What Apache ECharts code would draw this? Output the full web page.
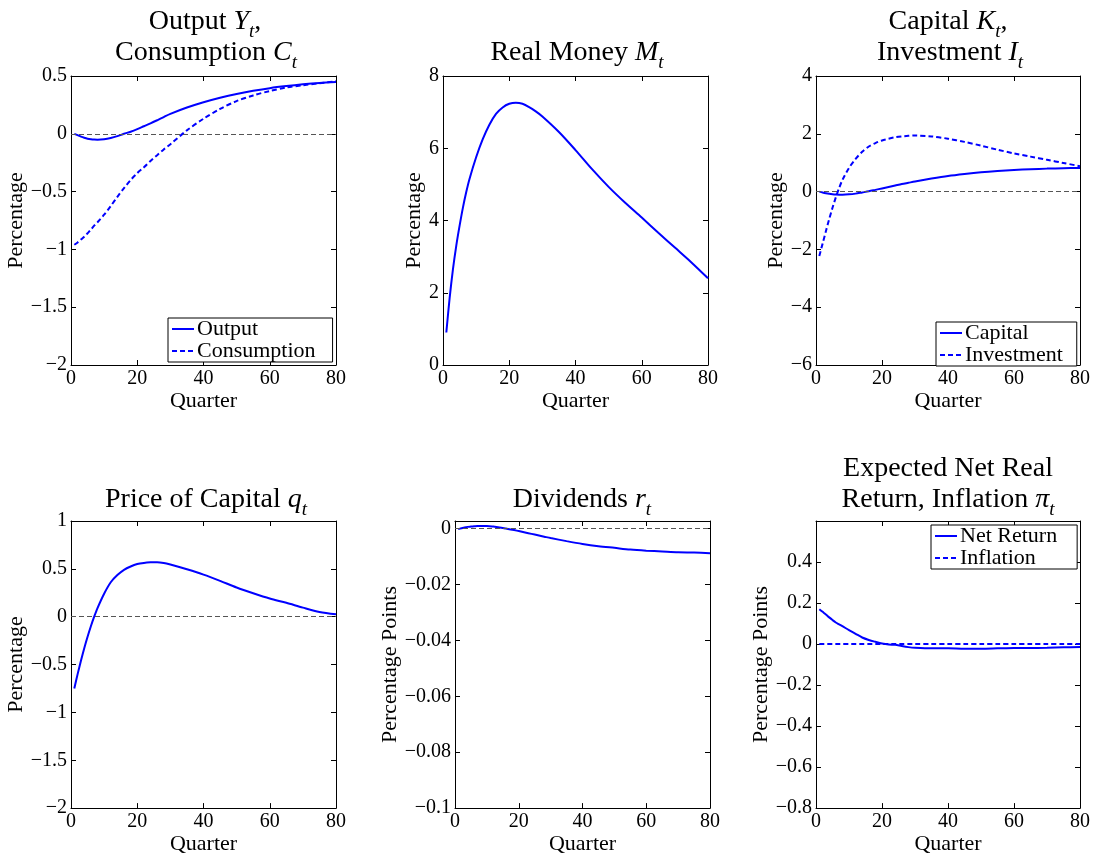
<!DOCTYPE html>
<html>
<head>
<meta charset="utf-8">
<script src="https://cdn.jsdelivr.net/npm/echarts@6/dist/echarts.min.js"></script>
<style>html,body{margin:0;padding:0;background:#fff}#c{width:1096px;height:856px}</style>
</head>
<body>
<div id="c"></div>
<script>
// ---- data ----
const quarters = [1,2,3,4,5,6,7,8,10,12,14,16,18,20,22,24,26,28,30,35,40,45,50,55,60,65,70,75,80];

const outputY = [0,-0.012,-0.024,-0.034,-0.042,-0.047,-0.05,-0.051,-0.047,-0.036,-0.02,0.0,0.018,0.04,0.065,0.09,0.117,0.145,0.172,0.227,0.273,0.312,0.345,0.372,0.395,0.413,0.428,0.44,0.448];
const consumptionC = [-0.96,-0.94,-0.915,-0.89,-0.86,-0.83,-0.795,-0.765,-0.70,-0.625,-0.545,-0.47,-0.40,-0.34,-0.29,-0.235,-0.185,-0.135,-0.09,0.03,0.13,0.215,0.283,0.332,0.37,0.40,0.42,0.437,0.455];

const realMoney = [0.9,1.85,2.65,3.3,3.85,4.35,4.78,5.15,5.75,6.25,6.65,6.95,7.13,7.23,7.26,7.23,7.14,7.02,6.88,6.45,5.95,5.42,4.93,4.49,4.08,3.66,3.25,2.84,2.40];

const capitalK = [0,-0.03,-0.055,-0.075,-0.09,-0.1,-0.105,-0.105,-0.095,-0.07,-0.03,0.01,0.06,0.11,0.16,0.21,0.26,0.305,0.35,0.45,0.54,0.61,0.67,0.715,0.75,0.775,0.795,0.81,0.82];
const investmentI = [-2.23,-1.8,-1.37,-0.95,-0.56,-0.2,0.12,0.4,0.82,1.13,1.38,1.56,1.68,1.77,1.83,1.88,1.91,1.93,1.94,1.91,1.83,1.72,1.59,1.45,1.32,1.21,1.1,0.99,0.88];

const priceQ = [-0.75,-0.6,-0.46,-0.33,-0.21,-0.1,0.0,0.09,0.24,0.36,0.435,0.49,0.525,0.55,0.562,0.568,0.57,0.562,0.545,0.495,0.44,0.375,0.305,0.245,0.19,0.145,0.095,0.05,0.025];

const dividendsR = [-0.0002,0.0001,0.0004,0.0006,0.0007,0.0008,0.0009,0.0009,0.0009,0.0007,0.0004,0.0,-0.0004,-0.0009,-0.0014,-0.0019,-0.0024,-0.0029,-0.0034,-0.0045,-0.0055,-0.0063,-0.0069,-0.0075,-0.0079,-0.0082,-0.0085,-0.0086,-0.0088];

const netReturn = [0.17,0.157,0.144,0.13,0.117,0.105,0.096,0.087,0.068,0.05,0.032,0.02,0.011,0.003,-0.002,-0.004,-0.01,-0.015,-0.018,-0.021,-0.021,-0.023,-0.023,-0.021,-0.019,-0.019,-0.018,-0.016,-0.015];
const inflationPi = [0,0,0,0,0,0,0,0,0,0,0,0,0,0,0,0,0,0,0,0,0,0,0,0,0,0,0,0,0];

const xTicks = {min:0, max:80, interval:20};
const yRanges = [
  {min:-2, max:0.5, interval:0.5},
  {min:0, max:8, interval:2},
  {min:-6, max:4, interval:2},
  {min:-2, max:1, interval:0.5},
  {min:-0.1, max:0.0027, interval:0.02},
  {min:-0.8, max:0.6, interval:0.2}
];
const yNames = ['Percentage','Percentage','Percentage','Percentage','Percentage Points','Percentage Points'];

// ---- layout / style ----
const FONT = 'Liberation Serif';
const BLUE = '#0000ff';
const grids = [
  {left:71, top:76, width:265, height:289},
  {left:443, top:76, width:265, height:289},
  {left:816, top:76, width:264, height:289},
  {left:71, top:521, width:265, height:289},
  {left:455, top:521, width:255, height:289},
  {left:816, top:521, width:264, height:289}
];
const yNameGaps = [39, 13, 28, 40, 47, 40];
const yLabelMaxShown = [0.5, 8, 4, 1, 0, 0.4];

function fmt(v){
  const s = String(+v.toFixed(4));
  return s.replace('-', '\u2212');
}

const xAxis = [], yAxis = [];
grids.forEach((g,i)=>{
  const line = {show:true, onZero:false, lineStyle:{color:'#000', width:1}};
  const tick = {show:true, inside:true, length:5, lineStyle:{color:'#000', width:1}};
  xAxis.push({type:'value', gridIndex:i, position:'bottom', min:xTicks.min, max:xTicks.max, interval:xTicks.interval,
    axisLine:line, axisTick:tick, splitLine:{show:false},
    axisLabel:{color:'#000', fontFamily:FONT, fontSize:20, margin:4},
    name:'Quarter', nameLocation:'middle', nameGap:18,
    nameTextStyle:{color:'#000', fontFamily:FONT, fontSize:22, verticalAlign:'top'}});
  xAxis.push({type:'value', gridIndex:i, position:'top', min:xTicks.min, max:xTicks.max, interval:xTicks.interval,
    axisLine:line, axisTick:tick, splitLine:{show:false}, axisLabel:{show:false}});
  const r = yRanges[i];
  const maxShown = yLabelMaxShown[i];
  yAxis.push({type:'value', gridIndex:i, position:'left', min:r.min, max:r.max, interval:r.interval,
    axisLine:line, axisTick:tick, splitLine:{show:false},
    axisLabel:{color:'#000', fontFamily:FONT, fontSize:20, margin:4,
      formatter:(v)=> (v > maxShown + 1e-9 ? '' : fmt(v))},
    name:yNames[i], nameLocation:'middle', nameGap:yNameGaps[i],
    nameTextStyle:{color:'#000', fontFamily:FONT, fontSize:22}});
  yAxis.push({type:'value', gridIndex:i, position:'right', min:r.min, max:r.max, interval:r.interval,
    axisLine:line, axisTick:tick, splitLine:{show:false}, axisLabel:{show:false}});
});

function pts(arr){ return quarters.map((q,k)=>[q, arr[k]]); }
const zeroLine = {silent:true, symbol:['none','none'], label:{show:false},
  lineStyle:{color:'#555', type:[5,3], width:1}, data:[{yAxis:0}]};

function ser(name, arr, gi, dashed, withZero){
  const s = {name:name, type:'line', xAxisIndex:2*gi, yAxisIndex:2*gi, data:pts(arr),
    showSymbol:false, symbol:'none', smooth:0.3, clip:true,
    lineStyle:{color:BLUE, width:2, type: dashed ? [5,3] : 'solid'},
    itemStyle:{color:BLUE}};
  if (withZero) s.markLine = zeroLine;
  return s;
}

const series = [
  ser('Output', outputY, 0, false, true),
  ser('Consumption', consumptionC, 0, true, false),
  ser('Real Money', realMoney, 1, false, false),
  ser('Capital', capitalK, 2, false, true),
  ser('Investment', investmentI, 2, true, false),
  ser('Price of Capital', priceQ, 3, false, true),
  ser('Dividends', dividendsR, 4, false, true),
  ser('Net Return', netReturn, 5, false, false),
  ser('Inflation', inflationPi, 5, true, false)
];

const rich = {
  n:{fontFamily:FONT, fontSize:28, color:'#000', lineHeight:22, padding:[0,0,5,0], verticalAlign:'bottom'},
  i:{fontFamily:FONT, fontSize:28, color:'#000', fontStyle:'italic', lineHeight:22, padding:[0,0,5,0], verticalAlign:'bottom'},
  s:{fontFamily:FONT, fontSize:19, color:'#000', fontStyle:'italic', lineHeight:22, verticalAlign:'bottom'}
};
function title(text, cx, top){
  return {text:text, left:cx, top:top, textAlign:'center', padding:0,
    textStyle:{rich:rich, fontFamily:FONT, fontSize:28, fontWeight:'normal', color:'#000'}};
}
const titles = [
  title('{n|Output }{i|Y}{s|t}{n|,}', 205, 19),
  title('{n|Consumption }{i|C}{s|t}', 206, 50),
  title('{n|Real Money }{i|M}{s|t}', 577, 50),
  title('{n|Capital }{i|K}{s|t}{n|,}', 948, 19),
  title('{n|Investment }{i|I}{s|t}', 950, 50),
  title('{n|Price of Capital }{i|q}{s|t}', 206, 497),
  title('{n|Dividends }{i|r}{s|t}', 582, 497),
  title('{n|Expected Net Real}', 948, 466),
  title('{n|Return, Inflation }{i|\u03c0}{s|t}', 948, 497)
];

function legend(names, left, top, rowH, padR){
  return {data:names, left:left, top:top, orient:'vertical', itemGap:0, itemWidth:22, itemHeight:rowH,
    padding:[0,padR,0,3], borderColor:'#000', borderWidth:1, backgroundColor:'#fff', selectedMode:false,
    itemStyle:{opacity:0, color:'rgba(0,0,0,0)', borderWidth:0},
    textStyle:{fontFamily:FONT, fontSize:22, color:'#000', lineHeight:rowH, padding:[0,0,0,-2]}};
}

const option = {
  animation:false,
  backgroundColor:'#fff',
  title: titles,
  grid: grids,
  xAxis: xAxis,
  yAxis: yAxis,
  legend: [
    legend(['Output','Consumption'], 168, 318, 21, 17),
    legend(['Capital','Investment'], 936, 322, 20, 14),
    legend(['Net Return','Inflation'], 931, 525, 18, 20)
  ],
  series: series
};
const chart = echarts.init(document.getElementById('c'), null, {renderer:'canvas'});
chart.setOption(option);
</script>
</body>
</html>
